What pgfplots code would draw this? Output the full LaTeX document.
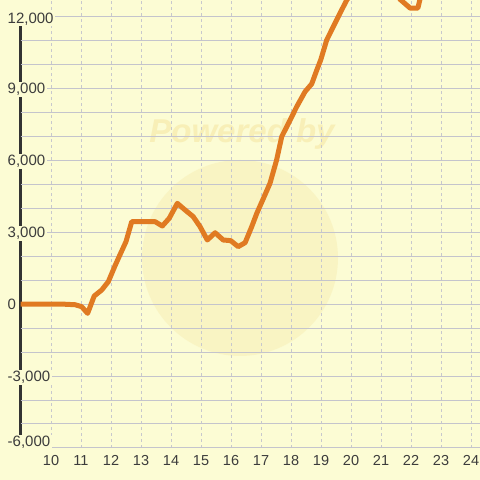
\documentclass[border=0pt]{standalone}
\usepackage{pgfplots}
\pgfplotsset{compat=1.18}
\usepackage{fontspec}
\setmainfont{Liberation Sans}
\definecolor{bg}{RGB}{252,252,212}
\definecolor{gridc}{RGB}{196,196,204}
\definecolor{vgrid}{RGB}{200,200,205}
\definecolor{dark}{RGB}{51,51,51}
\definecolor{lbl}{RGB}{60,60,60}
\definecolor{orangeline}{RGB}{224,122,34}
\definecolor{wm}{RGB}{247,236,176}
\begin{document}
\begin{tikzpicture}[x=1pt,y=1pt]
\fill[bg] (0,0) rectangle (480,480);
% faint watermark
\fill[wm, opacity=0.45] (240,222) circle (98);
\node[text=wm, font=\fontsize{33}{36}\selectfont\bfseries\itshape, opacity=0.8] at (242,346) {Powered by};
% y axis line
\draw[dark, line width=3pt] (20.5,44) -- (20.5,456);
\begin{axis}[
  at={(20.5pt,32pt)}, anchor=south west,
  scale only axis, width=459.5pt, height=448pt,
  xmin=8.983, xmax=24.3, ymin=-6000, ymax=12667,
  axis line style={draw=none},
  /pgf/number format/assume math mode=true,
  xtick={10,...,24},
  ytick={-6000,-3000,0,3000,6000,9000,12000},
  yticklabels={{\raisebox{7pt}{-6,000}},{-3,000},{0},{3,000},{6,000},{9,000},{\raisebox{-1.5pt}{12,000}}},
  minor y tick num=2,
  major tick length=0pt, minor tick length=0pt,
  ymajorgrids, yminorgrids, xmajorgrids,
  major grid style={gridc, line width=1pt},
  minor grid style={gridc, line width=1pt},
  x grid style={vgrid, line width=1pt, dash pattern=on 3pt off 3pt},
  extra y ticks={0},
  extra y tick labels={},
  extra y tick style={grid style={dark, line width=3pt, solid}},
  xticklabel style={font=\fontsize{14.5}{16}\selectfont, text=lbl, anchor=base, yshift=-18pt},
  yticklabel style={font=\fontsize{15}{17}\selectfont, text=lbl, anchor=base west, xshift=-14.5pt, yshift=-5.5pt, fill=bg, inner sep=1.5pt},
  clip=true,
]
\addplot[orangeline, line width=5pt, line join=round] coordinates {
(8.983,0) (10.3,0) (10.8,-30) (11.02,-110) (11.22,-390) (11.44,333) (11.69,583)
(11.91,930) (12.13,1583) (12.28,2000) (12.5,2600) (12.69,3430) (13.47,3430)
(13.71,3250) (13.94,3570) (14.21,4195) (14.47,3917) (14.74,3640) (14.97,3220)
(15.21,2667) (15.47,2970) (15.74,2667) (15.99,2640) (16.24,2390) (16.47,2555)
(16.69,3220) (16.86,3780) (17.08,4400) (17.3,5030) (17.52,6000) (17.69,6970)
(17.97,7667) (18.19,8220) (18.47,8850) (18.69,9170) (18.86,9750) (18.99,10167)
(19.19,11000) (19.41,11555) (19.63,12110) (19.86,12667) (20.3,13400)
(20.97,13600) (21.47,13100) (21.63,12700) (21.97,12330) (22.23,12330)
(22.3,12700) (22.4,13200)
};
\end{axis}
\pgfresetboundingbox
\path[use as bounding box] (0,0) rectangle (480,480);
\end{tikzpicture}
\end{document}
